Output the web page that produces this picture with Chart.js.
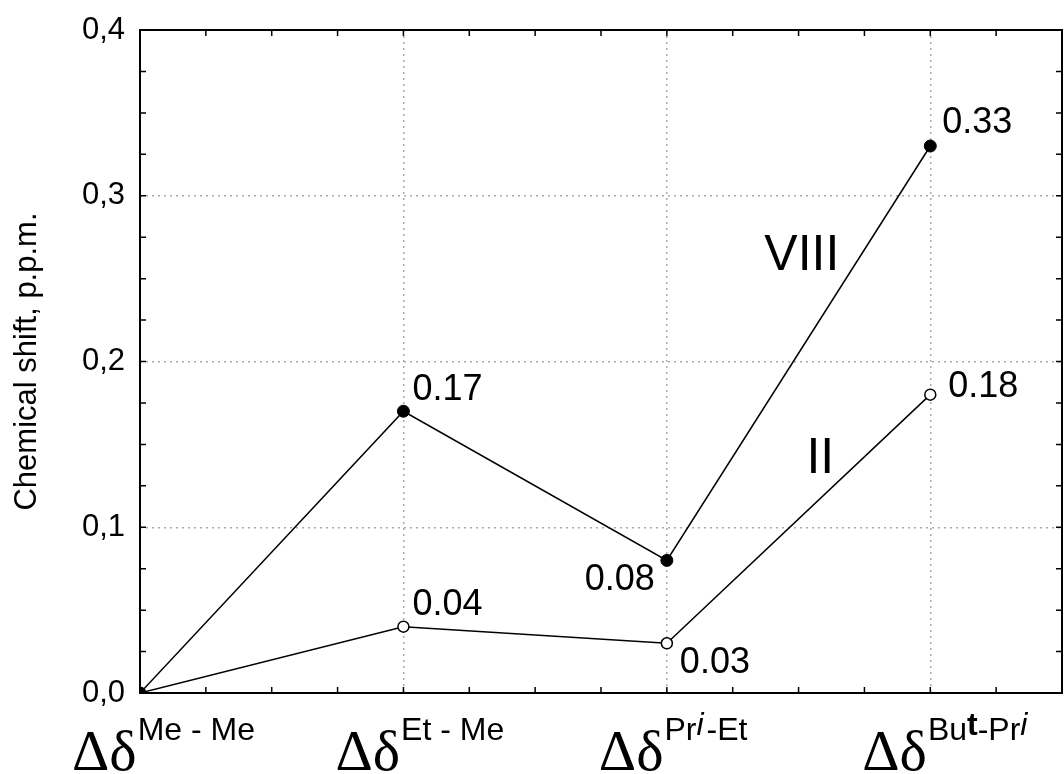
<!DOCTYPE html>
<html>
<head>
<meta charset="utf-8">
<script src="https://cdn.jsdelivr.net/npm/chart.js@4.4.1/dist/chart.umd.min.js"></script>
<style>
body{margin:0;background:#fff}
#wrap{width:1064px;height:774px}
</style>
</head>
<body>
<div id="wrap"><canvas id="chart" width="1064" height="774"></canvas></div>
<script>
/* ---------- DATA ---------- */
const catPos = [0, 1, 2, 3];
// superscript of each "Δδ" label: [text, style]  (i = italic, b = bold)
const catSup = [
 [["Me - Me", ""]],
 [["Et - Me", ""]],
 [["Pr", ""], ["i", "i"], ["-Et", ""]],
 [["Bu", ""], ["t", "b"], ["-Pr", ""], ["i", "i"]]
];
const valsVIII = [0, 0.17, 0.08, 0.33];
const valsII = [0, 0.04, 0.03, 0.18];
const yMajor = [0, 0.1, 0.2, 0.3, 0.4];
const xMajor = [0, 1, 2, 3];
const seriesNames = ["VIII", "II"];
const yTitle = "Chemical shift, p.p.m.";

/* ---------- LABEL PLACEMENT ---------- */
// value label offset from its point, px [dx, dy, align]
const offVIII = [null, [9, -11], [-12, 30, "right"], [12, -13]];
const offII = [null, [9, -12], [13, 30], [18, 2]];
// curve names, in data units
const namePos = [[2.37, 0.255], [2.53, 0.133]];

const sans = "Arial, 'Liberation Sans', sans-serif";
const serif = "'Times New Roman', 'Liberation Serif', serif";
const near = (v, list) => list.some(m => Math.abs(m - v) < 1e-6);
const pts = vals => catPos.map((x, i) => ({x: x, y: vals[i]}));

/* ---------- PLUGINS ---------- */
const frame = {
 id: "frame",
 afterDraw(ch){
  const {ctx, chartArea: a, scales: {x, y}} = ch;
  ctx.save();
  // minor/major ticks pointing inward on all four sides
  ctx.strokeStyle = "#000"; ctx.lineWidth = 1.5;
  ctx.beginPath();
  y.ticks.forEach(t => {
   const py = y.getPixelForValue(t.value);
   ctx.moveTo(a.left, py); ctx.lineTo(a.left + 6, py);
   ctx.moveTo(a.right, py); ctx.lineTo(a.right - 6, py);
  });
  x.ticks.forEach(t => {
   const px = x.getPixelForValue(t.value);
   ctx.moveTo(px, a.bottom); ctx.lineTo(px, a.bottom - 6);
   ctx.moveTo(px, a.top); ctx.lineTo(px, a.top + 6);
  });
  ctx.stroke();
  ctx.lineWidth = 2;
  ctx.strokeRect(a.left, a.top, a.right - a.left, a.bottom - a.top);

  // category labels: Δδ + superscript
  ctx.fillStyle = "#000";
  ctx.textBaseline = "alphabetic"; ctx.textAlign = "left";
  catPos.forEach((c, i) => {
   let px = x.getPixelForValue(c) - 68;
   ctx.font = "58px " + serif;
   ctx.fillText("Δδ", px, 770);
   px += ctx.measureText("Δδ").width + 1;
   catSup[i].forEach(([txt, st]) => {
    ctx.font = (st == "i" ? "italic " : st == "b" ? "bold " : "") + "32px " + sans;
    ctx.fillText(txt, px, st ? 735 : 740);
    px += ctx.measureText(txt).width + (st == "i" ? 3 : 0);
   });
  });

  // value labels
  ctx.font = "36px " + sans;
  [offVIII, offII].forEach((offs, d) => {
   const meta = ch.getDatasetMeta(d);
   offs.forEach((o, i) => {
    if(!o) return;
    const p = meta.data[i];
    ctx.textAlign = o[2] || "left";
    ctx.fillText(ch.data.datasets[d].data[i].y.toFixed(2), p.x + o[0], p.y + o[1]);
   });
  });

  // curve names
  ctx.font = "50px " + sans; ctx.textAlign = "left";
  seriesNames.forEach((n, d) => {
   ctx.fillText(n, x.getPixelForValue(namePos[d][0]), y.getPixelForValue(namePos[d][1]));
  });
  ctx.restore();
 }
};

/* ---------- CHART ---------- */
new Chart(document.getElementById("chart"), {
 type: "scatter",
 data: {
  datasets: [
   {label: seriesNames[0], data: pts(valsVIII), showLine: true, borderColor: "#000", borderWidth: 1.5,
    pointRadius: 6, pointBackgroundColor: "#000", pointBorderColor: "#000", pointBorderWidth: 1},
   {label: seriesNames[1], data: pts(valsII), showLine: true, borderColor: "#000", borderWidth: 1.5,
    pointRadius: 5.5, pointBackgroundColor: "#fff", pointBorderColor: "#000", pointBorderWidth: 1.5}
  ]
 },
 options: {
  responsive: false,
  animation: false,
  layout: {autoPadding: false, padding: {top: 30, right: 2, left: 0, bottom: 0}},
  plugins: {legend: {display: false}, tooltip: {enabled: false}},
  scales: {
   x: {
    type: "linear", min: 0, max: 3.5,
    ticks: {display: false, stepSize: 0.25},
    grid: {drawTicks: false, tickLength: 0, lineWidth: 1.5,
     color: c => near(c.tick.value, xMajor) && c.tick.value > 0 ? "#aaa" : "rgba(0,0,0,0)"},
    border: {display: false, dash: [2, 4]},
    afterFit: s => { s.height = 81; s.paddingLeft = 0; s.paddingRight = 0; }
   },
   y: {
    min: 0, max: 0.4,
    ticks: {stepSize: 0.025, padding: 15, color: "#000", font: {family: sans, size: 31},
     callback: v => near(v, yMajor) ? v.toFixed(1).replace(".", ",") : ""},
    grid: {drawTicks: false, tickLength: 0, lineWidth: 1.5,
     color: c => near(c.tick.value, yMajor) && c.tick.value > 0 && c.tick.value < 0.4 ? "#aaa" : "rgba(0,0,0,0)"},
    border: {display: false, dash: [2, 4]},
    title: {display: true, text: yTitle, color: "#000", font: {family: sans, size: 31}, padding: {top: 9, bottom: 0}},
    afterFit: s => { s.width = 140; s.paddingTop = 0; s.paddingBottom = 0; }
   }
  }
 },
 plugins: [frame]
});
</script>
</body>
</html>
